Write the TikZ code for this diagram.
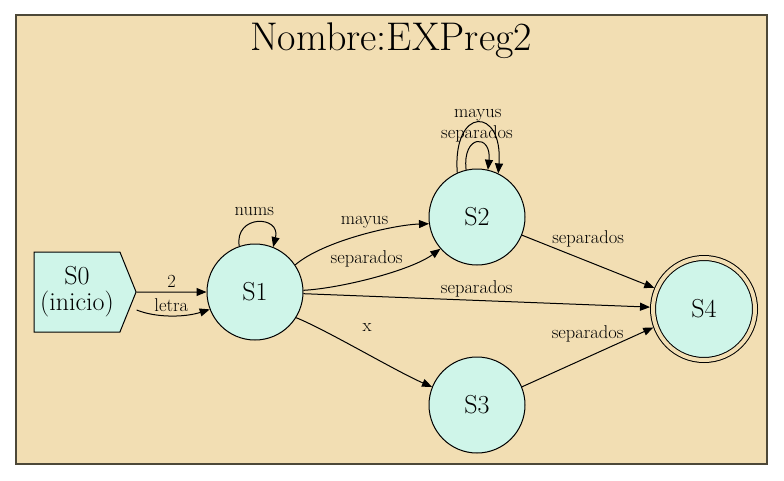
\documentclass[tikz,border=0pt]{standalone}
\usetikzlibrary{arrows.meta,shapes.symbols}

\definecolor{clusterbg}{HTML}{F2DEB3}
\definecolor{clusterline}{HTML}{4D4838}
\definecolor{statefill}{HTML}{CFF5E9}

\begin{document}
\begin{tikzpicture}[x=1pt,y=-1pt,line width=1pt,
    >={Triangle[length=10pt,width=8pt]},
    state/.style={circle,draw,fill=statefill,minimum size=96pt,inner sep=0pt,
        font=\fontsize{26}{26}\selectfont},
    accept/.style={state,minimum size=102pt,double=clusterbg,double distance=4pt,outer sep=3pt},
    lbl/.style={font=\fontsize{18.5}{19}\selectfont,anchor=base,inner sep=0pt}]
    \useasboundingbox (0,0) rectangle (784,480);
    \draw[clusterline,fill=clusterbg,line width=1.5pt] (16,15) rectangle (767,464);
    \node (title) at (391,41) {\fontsize{40}{42}\selectfont Nombre:EXPreg2};
    \node (S0) [signal,signal to=east,signal pointer angle=136,draw,fill=statefill,
        minimum width=102pt,minimum height=80pt,inner sep=0pt,align=center,
        font=\fontsize{26}{26}\selectfont] at (77,292) {S0\\(inicio)};
    \node (S1) [state] at (255,292) {S1};
    \node (S2) [state] at (477,217) {S2};
    \node (S3) [state] at (477,405) {S3};
    \node (S4) [accept] at (704,309) {S4};
    \draw[->] (S0) -- (S1) node[lbl,pos=.5,yshift=5pt] {2};
    \draw[->] ([yshift=-18pt]S0.east) .. controls +(20,8) and +(-25,8) .. (S1.201)
        node[lbl,pos=.5,yshift=4pt] {letra};
    \draw[->] (S1.109) .. controls +(-5,-32) and +(8,-32) .. (S1.68)
        node[lbl,pos=.5,xshift=-3pt,yshift=7.5pt] {nums};
    \draw[->] (S1.34) .. controls +(28,-24) and +(-35,1) .. (S2.188)
        node[lbl,pos=.5,xshift=5pt,yshift=11.5pt] {mayus};
    \draw[->] (S1.2) .. controls +(37,-2) and +(-30,22) .. (S2.221)
        node[lbl,pos=.5,xshift=-8pt,yshift=14pt] {separados};
    \draw[->] (S1.-2) -- (S4.178) node[lbl,pos=.5,yshift=7pt] {separados};
    \draw[->] (S1.-32) .. controls +(30,12) and +(-35,-15) .. (S3.158)
        node[lbl,pos=.5,xshift=5pt,yshift=20pt] {x};
    \draw[->] (S2.114) .. controls +(-5,-67) and +(5,-67) .. (S2.64)
        node[lbl,pos=.5,yshift=5pt] {mayus};
    \draw[->] (S2.103) .. controls +(-4,-36) and +(4,-36) .. (S2.77)
        node[lbl,pos=.5,yshift=4pt] {separados};
    \draw[->] (S2.-22) -- (S4.157) node[lbl,pos=.5,yshift=18pt] {separados};
    \draw[->] (S3.22) -- (S4.200) node[lbl,pos=.5,yshift=19pt] {separados};
\end{tikzpicture}
\end{document}
